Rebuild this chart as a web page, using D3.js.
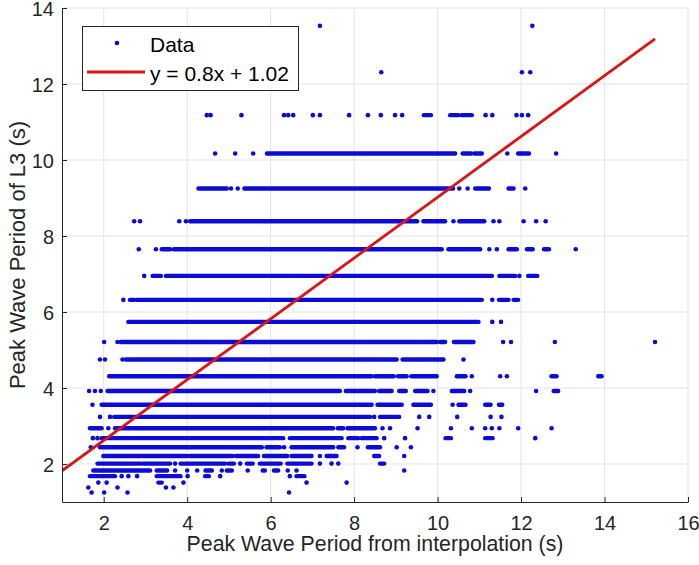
<!DOCTYPE html>
<html>
<head>
<meta charset="utf-8">
<script src="https://cdn.jsdelivr.net/npm/d3@7"></script>
<style>
  html, body { margin: 0; padding: 0; background: #fff; }
  svg { display: block; font-family: "Liberation Sans", Arial, Helvetica, sans-serif; }
</style>
</head>
<body>
<div id="chart"></div>
<script>
// L3 peak period bins (s), top to bottom
var levelsL3 = [13.53, 12.31, 11.18, 10.17, 9.25, 8.39, 7.65, 6.95, 6.32, 5.74, 5.21, 4.75, 4.31,
  3.92, 3.56, 3.24, 2.94, 2.68, 2.44, 2.21, 2.01, 1.83, 1.68, 1.51, 1.38, 1.25];

// interpolated peak period per bin: [x] = single point, [x0, x1] = dense run of points
var runsByLevel = [
  [[7.18], [12.27]],
  [[8.65], [12.02], [12.22]],
  [[4.47], [4.56], [5.30], [6.32], [6.42], [6.54], [7.01], [7.18], [7.88], [8.33], [8.64], [8.98], [9.15],
    [9.67, 9.84], [10.30, 10.50], [10.58, 10.82], [11.15], [11.31], [11.89], [12.02], [12.17]],
  [[4.67], [5.15], [5.58], [5.91, 10.42], [10.60, 10.80], [10.88, 11.06], [11.67], [11.93, 12.19], [12.84]],
  [[4.27, 4.95], [5.05], [5.21], [5.37, 10.37], [10.52], [10.72], [10.90, 11.23], [11.70, 11.82], [12.10]],
  [[2.73], [2.87], [3.81], [3.97], [4.07, 9.51], [9.66, 10.18], [10.38], [10.52, 11.12], [11.34], [11.48],
    [12.06], [12.36], [12.59]],
  [[2.84], [3.25], [3.39, 3.59], [3.68, 10.10], [10.26, 11.02], [11.24], [11.42], [11.70, 11.90],
    [12.14, 12.28], [12.55, 12.67], [13.31]],
  [[2.97], [3.17, 3.37], [3.49, 11.30], [11.48, 11.86], [11.96], [12.17, 12.39]],
  [[2.47], [2.63, 2.73], [2.79, 11.06], [11.31], [11.47, 11.70], [11.82, 11.93]],
  [[2.59, 10.98], [11.31], [11.52]],
  [[2.01], [2.33], [2.41, 9.98], [10.06, 10.18], [10.39, 10.86], [11.57], [11.76], [12.81], [15.21]],
  [[1.91], [2.03], [2.45], [2.53, 9.02], [9.16, 10.14], [10.62]],
  [[2.13, 8.42], [8.50, 8.95], [9.05, 9.26], [9.37, 9.98], [10.46, 10.67], [10.82], [11.50], [11.66],
    [12.73, 12.85], [13.85, 13.93]],
  [[1.65], [1.79], [1.93], [2.09, 7.66], [7.80, 8.50], [8.60, 8.90], [9.08, 9.24], [9.46, 9.76], [9.90],
    [10.34, 10.64], [10.78], [12.36], [12.78, 12.89]],
  [[1.73], [1.95, 8.42], [8.56, 9.14], [9.42, 9.84], [10.36], [10.50, 10.67], [11.14, 11.27], [11.47, 11.55]],
  [[1.91], [2.15], [2.25, 8.38], [8.48], [8.62, 9.08], [9.56], [9.80], [10.47], [11.27], [11.53]],
  [[1.67, 1.95], [2.11], [2.27, 7.50], [7.61, 7.74], [7.84, 8.50], [8.68], [8.86], [9.52], [10.32], [10.82],
    [11.14], [11.30], [11.48], [11.93], [12.73]],
  [[1.74], [1.85], [1.95, 6.30], [6.46, 7.70], [7.86, 8.10], [8.18, 8.54], [8.72], [9.22], [10.19, 10.32],
    [11.14, 11.32], [12.34]],
  [[1.69], [1.91, 5.79], [5.90, 6.22], [6.32], [6.50, 7.50], [7.62, 7.76], [8.08], [8.33, 8.62], [9.02], [9.36]],
  [[1.99, 3.99], [4.05, 5.09], [5.17, 5.70], [5.84, 6.40], [6.50, 6.98], [7.18], [7.34, 7.58], [8.48, 8.60], [9.20]],
  [[1.85, 2.87], [2.93, 3.59], [3.71], [3.84, 4.91], [4.99, 5.12], [5.27], [5.43, 5.57], [5.74, 6.24],
    [6.40, 6.98], [7.18], [7.46], [7.62], [8.62, 8.72]],
  [[1.75, 2.39], [2.43, 3.11], [3.27, 3.52], [3.71], [4.00], [4.24], [4.44, 4.59], [4.83], [4.95, 5.07],
    [5.45], [5.81, 5.86], [6.08, 6.18], [6.41], [6.62], [9.20]],
  [[1.67, 2.27], [2.43], [2.59], [2.80], [3.27, 3.84], [4.01], [4.43, 4.52], [4.79], [6.46], [6.62, 6.81]],
  [[1.87], [2.07], [3.31, 3.39], [3.91], [6.86], [7.82]],
  [[1.63], [2.33], [3.49], [3.67]],
  [[1.71], [2.01], [2.57], [6.44]]
];

var xTicks = [2, 4, 6, 8, 10, 12, 14, 16];
var yTicks = [2, 4, 6, 8, 10, 12, 14];
var fitSlope = 0.8;
var fitIntercept = 1.02;
var fitRange = [1, 15.21];
var legendLabels = ['Data', 'y = 0.8x + 1.02'];

var width = 699, height = 565;
var margin = {left: 62, right: 11, top: 8, bottom: 63};

var x = d3.scaleLinear().domain([1, 16]).range([margin.left, width - margin.right]);
var y = d3.scaleLinear().domain([1, 14]).range([height - margin.bottom, margin.top]);

var blue = '#0c0cd6';
var red = '#dc1414';
var axisColor = '#262626';

var svg = d3.select('#chart').append('svg')
  .attr('width', width).attr('height', height);

svg.append('rect').attr('width', width).attr('height', height).attr('fill', '#fff');

svg.append('clipPath').attr('id', 'plot-clip')
  .append('rect')
  .attr('x', x(1)).attr('y', y(14))
  .attr('width', x(16) - x(1)).attr('height', y(1) - y(14));

// grid
var grid = svg.append('g');
grid.selectAll('line.gx').data(xTicks).enter().append('line')
  .attr('class', 'gx')
  .attr('x1', function (d) { return x(d); })
  .attr('x2', function (d) { return x(d); })
  .attr('y1', y(1)).attr('y2', y(14))
  .attr('stroke', '#e3e3e3').attr('stroke-width', 1);
grid.selectAll('line.gy').data(yTicks).enter().append('line')
  .attr('class', 'gy')
  .attr('y1', function (d) { return y(d); })
  .attr('y2', function (d) { return y(d); })
  .attr('x1', x(1)).attr('x2', x(16))
  .attr('stroke', '#e3e3e3').attr('stroke-width', 1);

// flatten runs into marks
var runs = [];
levelsL3.forEach(function (lv, i) {
  runsByLevel[i].forEach(function (r) {
    runs.push({y: lv, x0: r[0], x1: r.length > 1 ? r[1] : r[0]});
  });
});

var data = svg.append('g').attr('clip-path', 'url(#plot-clip)');

data.selectAll('line.run').data(runs.filter(function (d) { return d.x1 > d.x0; }))
  .enter().append('line')
  .attr('class', 'run')
  .attr('x1', function (d) { return x(d.x0); })
  .attr('x2', function (d) { return x(d.x1); })
  .attr('y1', function (d) { return y(d.y); })
  .attr('y2', function (d) { return y(d.y); })
  .attr('stroke', blue)
  .attr('stroke-width', 4.4)
  .attr('stroke-linecap', 'round');

data.selectAll('circle.pt').data(runs.filter(function (d) { return d.x1 === d.x0; }))
  .enter().append('circle')
  .attr('class', 'pt')
  .attr('cx', function (d) { return x(d.x0); })
  .attr('cy', function (d) { return y(d.y); })
  .attr('r', 2.3)
  .attr('fill', blue);

// fitted line
data.append('line')
  .attr('x1', x(fitRange[0])).attr('y1', y(fitSlope * fitRange[0] + fitIntercept))
  .attr('x2', x(fitRange[1])).attr('y2', y(fitSlope * fitRange[1] + fitIntercept))
  .attr('stroke', red)
  .attr('stroke-width', 2.8);

// axes (ticks inward, like matlab)
var xAxis = svg.append('g')
  .attr('transform', 'translate(0,' + y(1) + ')')
  .call(d3.axisBottom(x).tickValues(xTicks).tickSize(-5).tickSizeOuter(0).tickPadding(14));
var yAxis = svg.append('g')
  .attr('transform', 'translate(' + x(1) + ',0)')
  .call(d3.axisLeft(y).tickValues(yTicks).tickSize(-5).tickSizeOuter(0).tickPadding(8));

[xAxis, yAxis].forEach(function (ax) {
  ax.select('.domain').attr('stroke', axisColor);
  ax.selectAll('.tick line').attr('stroke', axisColor);
  ax.selectAll('.tick text')
    .attr('fill', axisColor)
    .attr('font-size', '20px')
    .attr('font-family', '"Liberation Sans", Arial, sans-serif');
});
yAxis.selectAll('.tick text').attr('dy', '0.36em');

svg.append('text')
  .attr('x', (x(1) + x(16)) / 2)
  .attr('y', 551)
  .attr('text-anchor', 'middle')
  .attr('font-size', '21.3px')
  .attr('fill', axisColor)
  .text('Peak Wave Period from interpolation (s)');

svg.append('text')
  .attr('transform', 'translate(25,' + (y(1) + y(14)) / 2 + ') rotate(-90)')
  .attr('text-anchor', 'middle')
  .attr('font-size', '22px')
  .attr('fill', axisColor)
  .text('Peak Wave Period of L3 (s)');

// legend
var legend = svg.append('g');
legend.append('rect')
  .attr('x', 82.5).attr('y', 26.5)
  .attr('width', 216).attr('height', 64)
  .attr('fill', '#fff')
  .attr('stroke', axisColor).attr('stroke-width', 1);
legend.append('circle')
  .attr('cx', 117).attr('cy', 43).attr('r', 2.3).attr('fill', blue);
legend.append('line')
  .attr('x1', 87).attr('x2', 145).attr('y1', 72).attr('y2', 72)
  .attr('stroke', red).attr('stroke-width', 2.8);
legend.selectAll('text').data(legendLabels).enter().append('text')
  .attr('x', 150)
  .attr('y', function (d, i) { return i === 0 ? 51.5 : 80.5; })
  .attr('font-size', '21px')
  .attr('fill', '#000')
  .text(function (d) { return d; });
</script>
</body>
</html>
